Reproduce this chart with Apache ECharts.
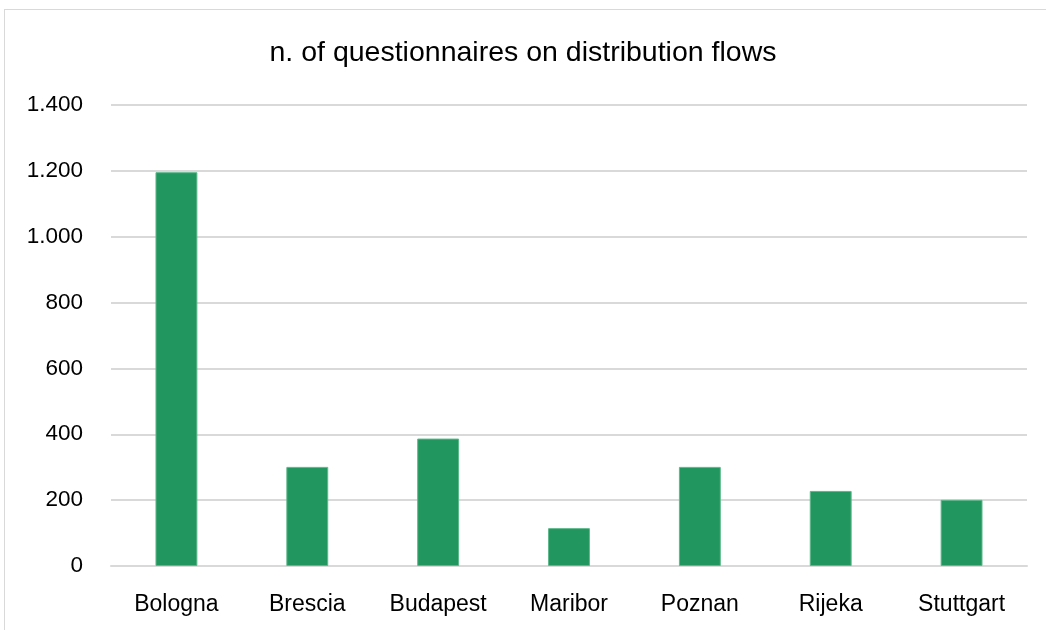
<!DOCTYPE html>
<html>
<head>
<meta charset="utf-8">
<script src="https://cdn.jsdelivr.net/npm/echarts@6/dist/echarts.min.js"></script>
<style>
  html, body { margin: 0; padding: 0; background: #fff; }
  #frame { position: absolute; left: 4px; top: 9px; width: 1050px; height: 630px; border: 1px solid #d9d9d9; box-sizing: border-box; }
  #chart { width: 1046px; height: 630px; }
</style>
</head>
<body>
<div id="frame"></div>
<div id="chart"></div>
<script>
const cities = ['Bologna', 'Brescia', 'Budapest', 'Maribor', 'Poznan', 'Rijeka', 'Stuttgart'];
const questionnaires = [1196, 301, 387, 115, 301, 228, 201];
const titleText = 'n. of questionnaires on distribution flows';

const font = '"Liberation Sans", Arial, sans-serif';

let myChart = echarts.init(document.getElementById('chart'));
let option = {
  animation: false,
  title: {
    text: titleText,
    left: 'center',
    top: 34,
    textStyle: { fontFamily: font, fontSize: 28.5, fontWeight: 'normal', color: '#000' }
  },
  grid: { left: 111, right: 19, top: 105, bottom: 64 },
  xAxis: {
    type: 'category',
    data: cities,
    axisTick: { show: false },
    axisLine: { lineStyle: { color: '#d9d9d9', width: 2 } },
    axisLabel: { fontFamily: font, fontSize: 23, color: '#000', margin: 27 }
  },
  yAxis: {
    type: 'value',
    min: 0,
    max: 1400,
    interval: 200,
    axisLine: { show: false },
    axisTick: { show: false },
    splitLine: { lineStyle: { color: '#d9d9d9', width: 2 } },
    axisLabel: {
      fontFamily: font, fontSize: 22.5, color: '#000', margin: 28,
      formatter: v => String(v).replace(/\B(?=(\d{3})+(?!\d))/g, '.')
    }
  },
  series: [{
    type: 'bar',
    data: questionnaires,
    barWidth: '32%',
    itemStyle: { color: '#21965e', borderColor: '#5cb88a', borderWidth: 1 }
  }]
};
myChart.setOption(option);
</script>
</body>
</html>
